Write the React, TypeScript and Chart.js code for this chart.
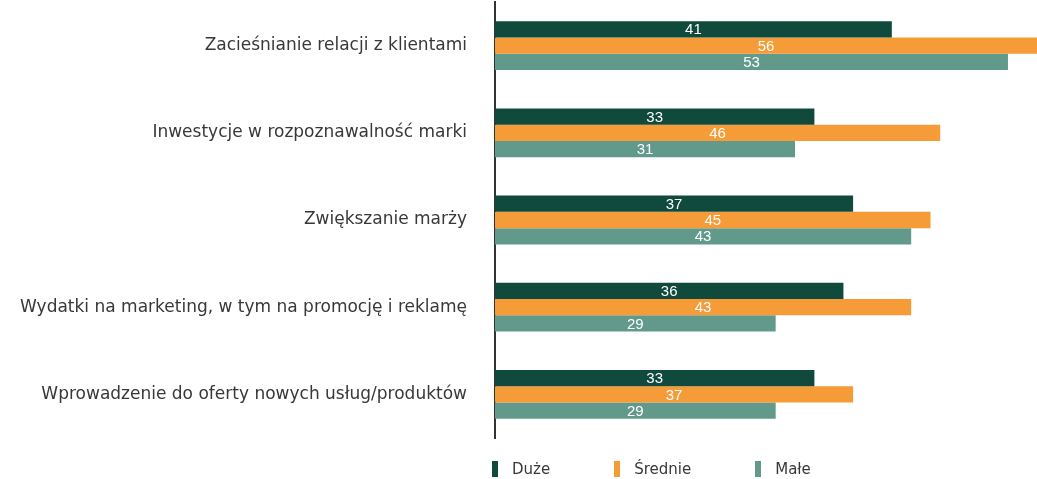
import React, { useEffect, useRef } from "react";
import { Chart, registerables } from "chart.js";

Chart.register(...registerables);

const categories = [
  "Zacieśnianie relacji z klientami",
  "Inwestycje w rozpoznawalność marki",
  "Zwiększanie marży",
  "Wydatki na marketing, w tym na promocję i reklamę",
  "Wprowadzenie do oferty nowych usług/produktów",
];
const seriesNames = ["Duże", "Średnie", "Małe"];
const duze = [41, 33, 37, 36, 33];
const srednie = [56, 46, 45, 43, 37];
const male = [53, 31, 43, 29, 29];
const colors = ["#0f4a3d", "#f59b38", "#619a8b"];

const FONT = "'DejaVu Sans', 'Open Sans', sans-serif";

const valueLabels = {
  id: "valueLabels",
  afterDatasetsDraw(chart: any) {
    const ctx = chart.ctx;
    ctx.save();
    ctx.fillStyle = "#ffffff";
    ctx.font = "15px 'Liberation Sans', Arial, sans-serif";
    ctx.textAlign = "center";
    ctx.textBaseline = "middle";
    chart.data.datasets.forEach((ds: any, di: number) => {
      const meta = chart.getDatasetMeta(di);
      meta.data.forEach((bar: any, i: number) => {
        const x = (bar.x + bar.base) / 2;
        ctx.fillText(String(ds.data[i]), x, bar.y + 1);
      });
    });
    ctx.restore();
  },
};

export default function App() {
  const ref = useRef<HTMLCanvasElement | null>(null);
  useEffect(() => {
    if (!ref.current) return;
    const chart = new Chart(ref.current, {
      type: "bar",
      data: {
        labels: categories,
        datasets: [duze, srednie, male].map((d, i) => ({
          label: seriesNames[i],
          data: d,
          backgroundColor: colors[i],
          borderWidth: 0,
          categoryPercentage: 0.56,
          barPercentage: 1.0,
        })),
      },
      options: {
        indexAxis: "y",
        animation: false,
        responsive: false,
        maintainAspectRatio: false,
        layout: { padding: { top: 2, bottom: 41, left: 0, right: 0 } },
        plugins: {
          legend: { display: false },
          tooltip: { enabled: false },
        },
        scales: {
          x: {
            display: false,
            min: 0,
            max: 56,
          },
          y: {
            grid: { display: false, drawTicks: false },
            border: { display: true, color: "#333333", width: 2 },
            ticks: {
              color: "#383838",
              padding: 28,
              font: { family: FONT, size: 17 },
            },
            afterFit: (scale: any) => {
              scale.width = 495;
              scale.paddingTop = 0;
              scale.paddingBottom = 0;
            },
          },
        },
      },
      plugins: [valueLabels],
    });
    return () => chart.destroy();
  }, []);

  return (
    <div style={{ position: "fixed", left: 0, top: 0, width: 1037, height: 479, background: "#fff" }}>
      <canvas ref={ref} width={1037} height={479} style={{ display: "block" }} />
      <div
        style={{
          position: "absolute",
          left: 492,
          top: 459,
          display: "flex",
          alignItems: "center",
          fontFamily: FONT,
          fontSize: 15,
          color: "#383838",
        }}
      >
        {seriesNames.map((n, i) => (
          <div key={n} style={{ display: "flex", alignItems: "center", marginRight: 64 }}>
            <span style={{ display: "inline-block", width: 6, height: 16, background: colors[i], marginRight: 14 }} />
            <span style={{ lineHeight: "20px" }}>{n}</span>
          </div>
        ))}
      </div>
    </div>
  );
}
